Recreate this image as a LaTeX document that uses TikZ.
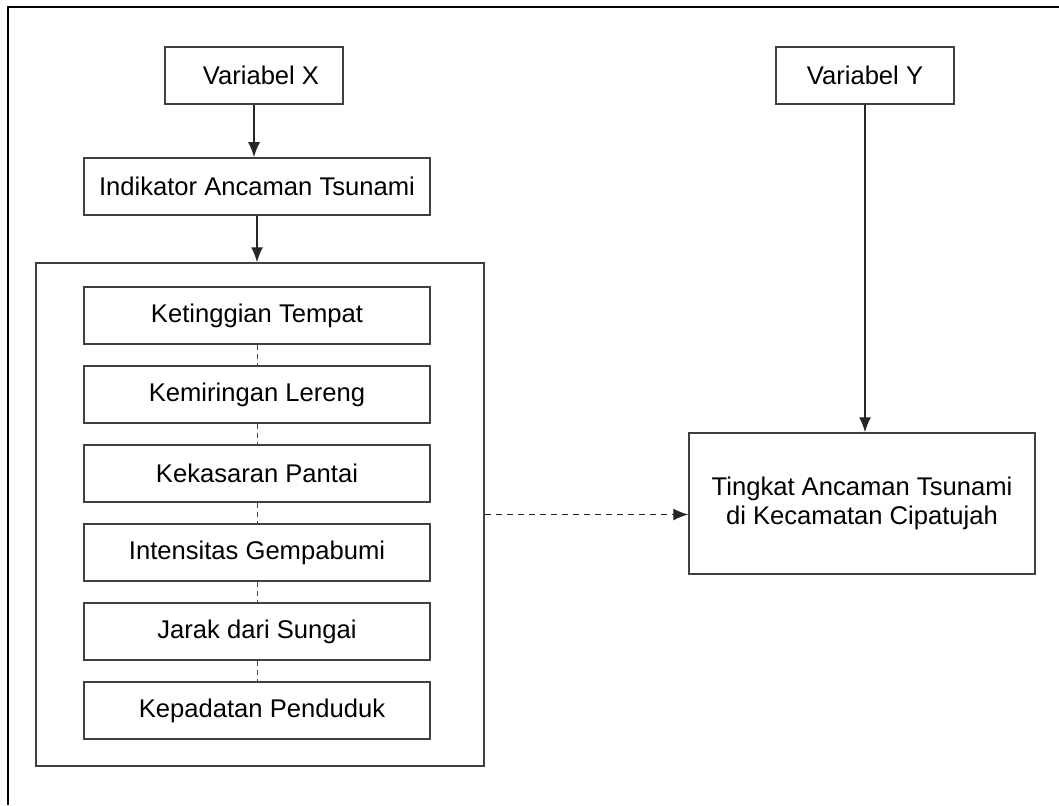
\documentclass[tikz,border=0pt]{standalone}
\usepackage{fontspec}
\setmainfont{Liberation Sans}
\usetikzlibrary{arrows.meta}

\begin{document}
\begin{tikzpicture}[x=1pt,y=-1pt,
    box/.style={draw=black!75,line width=1.5pt,minimum width=346pt,minimum height=57pt,inner sep=0pt,
        font=\fontsize{25.6}{29}\selectfont},
    arr/.style={-{Latex[length=15pt,width=12pt]},line width=1.4pt,draw=black!85},
    link/.style={draw=black!70,line width=0.9pt,dash pattern=on 5pt off 4pt}]
    \useasboundingbox (0,0) rectangle (1059,805);
    % frame
    \draw[line width=2pt] (1059,7) -- (8,7) -- (8,805);
    % left part
    \node[box,minimum width=178pt] (varx) at (254,75.5) {\hspace*{14pt}Variabel X};
    \node[box] (indik) at (257,186.5) {Indikator Ancaman Tsunami};
    \node[draw=black!75,line width=1.5pt,minimum width=448pt,minimum height=503pt,inner sep=0pt] (grup) at (260,514.5) {};
    \node[box] (tinggi) at (257,315.5) {Ketinggian Tempat};
    \node[box] (miring) at (257,394.5) {Kemiringan Lereng};
    \node[box] (kasar) at (257,473.5) {Kekasaran Pantai};
    \node[box] (gempa) at (257,552.5) {Intensitas Gempabumi};
    \node[box] (sungai) at (257,631.5) {Jarak dari Sungai};
    \node[box] (padat) at (257,710.5) {\hspace*{10pt}Kepadatan Penduduk};
    % right part
    \node[box,minimum width=178pt] (vary) at (865,75.5) {Variabel Y};
    \node[box,minimum height=141pt,align=center] (tingkat) at (862,503.5) {Tingkat Ancaman Tsunami\\di Kecamatan Cipatujah};
    % connectors
    \draw[arr] (varx.south) -- (varx.south |- indik.north);
    \draw[arr] (indik.south) -- (indik.south |- grup.north);
    \draw[arr] (vary.south) -- (vary.south |- tingkat.north);
    \draw[arr,dash pattern=on 6pt off 5pt] (grup.east) -- (grup.east -| tingkat.west);
    \draw[link] (tinggi) -- (miring);
    \draw[link] (miring) -- (kasar);
    \draw[link] (kasar) -- (gempa);
    \draw[link] (gempa) -- (sungai);
    \draw[link] (sungai) -- (padat);
\end{tikzpicture}
\end{document}
